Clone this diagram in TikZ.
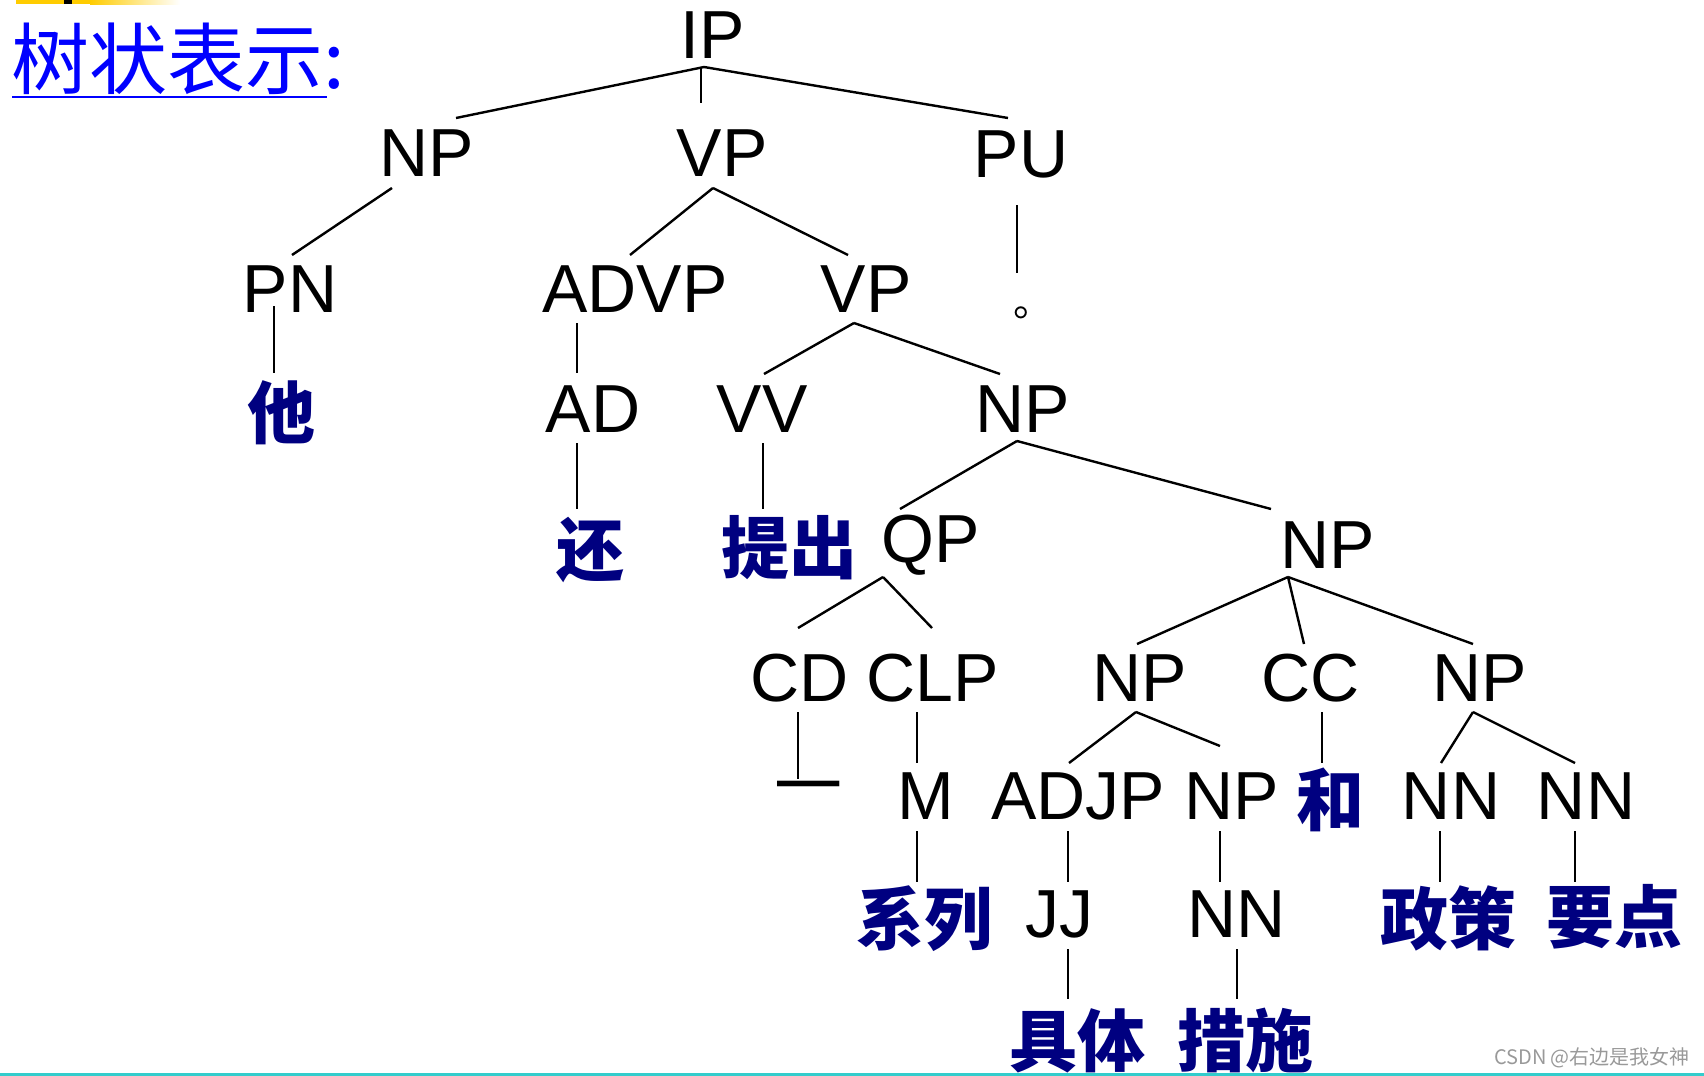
\documentclass[tikz,border=0pt]{standalone}
\usepackage{fontspec}
\setmainfont{Liberation Sans}
\newfontfamily\cjk{Noto Sans CJK SC}
\usetikzlibrary{calc}
\definecolor{wordblue}{RGB}{0,0,128}
\definecolor{titleblue}{RGB}{0,0,255}
\definecolor{barteal}{RGB}{51,204,204}
\definecolor{bargold}{RGB}{255,204,0}

\begin{document}
\begin{tikzpicture}[x=0.5pt,y=-0.5pt,
  cat/.style={inner sep=0pt, font=\fontsize{34}{34}\selectfont},
  word/.style={inner sep=0pt, text=wordblue, font=\cjk\bfseries\fontsize{34}{34}\selectfont},
  branch/.style={line width=1.2pt}]
\useasboundingbox (0,0) rectangle (1704,1076);
% slide decoration
\fill[bargold] (16,0) rectangle (90,4);
\shade[left color=bargold, right color=white] (90,0) rectangle (180,4);
\fill[black] (64,0) rectangle (72,4);
\fill[barteal] (0,1073) rectangle (1704,1076);
\node[inner sep=0pt, text=titleblue, font=\cjk\fontsize{39}{39}\selectfont] (title) at (178,59) {树状表示:};
\draw[titleblue, line width=1.3pt] (12,97) -- (327,97);
% categories and words
\node[cat] (ip) at (713,35) {IP};
\node[cat] (np) at (427,153) {NP};
\node[cat] (vp) at (722,153) {VP};
\node[cat] (pu) at (1021,154) {PU};
\node[cat] (pn) at (290,289) {PN};
\node[cat] (advp) at (635,289) {ADVP};
\node[cat] (vpb) at (866,289) {VP};
\node[inner sep=0pt, font=\cjk\fontsize{20}{20}\selectfont] (stop) at (1033,313) {。};
\node[word] (ta) at (281,413) {他};
\node[cat] (ad) at (593,409) {AD};
\node[cat] (vv) at (762,409) {VV};
\node[cat] (npc) at (1023,409) {NP};
\node[word] (hai) at (590,550) {还};
\node[word] (tichu) at (789,548) {提出};
\node[cat] (qp) at (931,545) {QP};
\node[cat] (npd) at (1328,545) {NP};
\node[cat] (cd) at (800,678) {CD};
\node[cat] (clp) at (933,678) {CLP};
\node[cat] (npe) at (1140,678) {NP};
\node[cat] (cc) at (1311,678) {CC};
\node[cat] (npf) at (1480,678) {NP};
\node[inner sep=0pt, font=\cjk\fontsize{34}{34}\selectfont] (yi) at (808,796) {一};
\node[cat] (m) at (926,796) {M};
\node[cat] (adjp) at (1078,796) {ADJP};
\node[cat] (npg) at (1232,796) {NP};
\node[word] (he) at (1330,800) {和};
\node[cat] (nna) at (1451,796) {NN};
\node[cat] (nnb) at (1586,796) {NN};
\node[word] (xilie) at (924,919) {系列};
\node[cat] (jj) at (1059,914) {JJ};
\node[cat] (nnc) at (1237,914) {NN};
\node[word] (zhengce) at (1448,918) {政策};
\node[word] (yaodian) at (1614,917) {要点};
\node[word] (juti) at (1077,1041) {具体};
\node[word] (cuoshi) at (1245,1040) {措施};
% branches
\draw[branch] ($(ip)+(-9,32)$) -- ($(np)+(29,-35)$);
\draw[branch] ($(ip)+(-12,32)$) -- ($(vp)+(-21,-50)$);
\draw[branch] ($(ip)+(-9,32)$) -- ($(pu)+(-13,-36)$);
\draw[branch] ($(np)+(-35,35)$) -- ($(pn)+(2,-34)$);
\draw[branch] ($(vp)+(-9,35)$) -- ($(advp)+(-5,-34)$);
\draw[branch] ($(vp)+(-9,35)$) -- ($(vpb)+(-18,-34)$);
\draw[branch] ($(pu)+(-4,51)$) -- ($(stop)+(-16,-40)$);
\draw[branch] ($(pn)+(-16,17)$) -- ($(ta)+(-7,-40)$);
\draw[branch] ($(advp)+(-58,34)$) -- ($(ad)+(-16,-36)$);
\draw[branch] ($(vpb)+(-12,34)$) -- ($(vv)+(2,-35)$);
\draw[branch] ($(vpb)+(-12,34)$) -- ($(npc)+(-23,-35)$);
\draw[branch] ($(ad)+(-16,34)$) -- ($(hai)+(-13,-41)$);
\draw[branch] ($(vv)+(1,34)$) -- ($(tichu)+(-26,-39)$);
\draw[branch] ($(npc)+(-6,32)$) -- ($(qp)+(-31,-36)$);
\draw[branch] ($(npc)+(-6,32)$) -- ($(npd)+(-57,-36)$);
\draw[branch] ($(qp)+(-48,32)$) -- ($(cd)+(-2,-50)$);
\draw[branch] ($(qp)+(-48,32)$) -- ($(clp)+(-1,-50)$);
\draw[branch] ($(npd)+(-40,32)$) -- ($(npe)+(-3,-34)$);
\draw[branch] ($(npd)+(-40,32)$) -- ($(cc)+(-7,-34)$);
\draw[branch] ($(npd)+(-40,32)$) -- ($(npf)+(-7,-34)$);
\draw[branch] ($(cd)+(-2,34)$) -- ($(yi)+(-10,-17)$);
\draw[branch] ($(clp)+(-16,34)$) -- ($(m)+(-9,-33)$);
\draw[branch] ($(npe)+(-4,34)$) -- ($(adjp)+(-9,-33)$);
\draw[branch] ($(npe)+(-4,34)$) -- ($(npg)+(-12,-50)$);
\draw[branch] ($(cc)+(11,34)$) -- ($(he)+(-8,-37)$);
\draw[branch] ($(npf)+(-7,34)$) -- ($(nna)+(-10,-33)$);
\draw[branch] ($(npf)+(-7,34)$) -- ($(nnb)+(-11,-33)$);
\draw[branch] ($(m)+(-9,35)$) -- ($(xilie)+(-7,-37)$);
\draw[branch] ($(adjp)+(-10,35)$) -- ($(jj)+(9,-32)$);
\draw[branch] ($(npg)+(-12,35)$) -- ($(nnc)+(-17,-32)$);
\draw[branch] ($(nna)+(-11,35)$) -- ($(zhengce)+(-8,-36)$);
\draw[branch] ($(nnb)+(-11,35)$) -- ($(yaodian)+(-39,-35)$);
\draw[branch] ($(jj)+(9,35)$) -- ($(juti)+(-9,-42)$);
\draw[branch] ($(nnc)+(0,35)$) -- ($(cuoshi)+(-8,-41)$);
\node[inner sep=0pt, text=black!40, font=\cjk\fontsize{10}{10}\selectfont] (mark) at (1592,1058) {CSDN @右边是我女神};
\end{tikzpicture}
\end{document}
